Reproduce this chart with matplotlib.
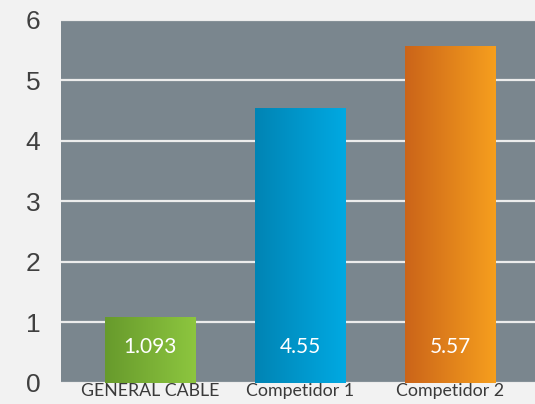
import numpy as np
import matplotlib
matplotlib.use("Agg")
import matplotlib.pyplot as plt
from matplotlib.colors import LinearSegmentedColormap

# datos
categorias = ["GENERAL CABLE", "Competidor 1", "Competidor 2"]
valores = [1.093, 4.55, 5.57]
etiquetas = ["1.093", "4.55", "5.57"]
colores = [("#679a2c", "#8dc63f"), ("#0084b4", "#00a9e2"), ("#cb6419", "#f69f1e")]
ticks_y = [0, 1, 2, 3, 4, 5, 6]

fig = plt.figure(figsize=(5.35, 4.04), dpi=100)
fig.patch.set_facecolor("#f2f2f2")
ax = fig.add_axes([0.114, 0.052, 0.886, 0.8985])
ax.set_facecolor("#7a868e")

x = np.arange(len(categorias))
barras = ax.bar(x, valores, width=0.6, color="none", zorder=3)

# degradado horizontal dentro de cada barra
gradiente = np.linspace(0, 1, 256).reshape(1, -1)
for barra, (c1, c2) in zip(barras, colores):
    cmap = LinearSegmentedColormap.from_list("g", [c1, c2])
    x0 = barra.get_x()
    ancho = barra.get_width()
    alto = barra.get_height()
    img = ax.imshow(gradiente, cmap=cmap, aspect="auto",
                    extent=[x0, x0 + ancho, 0, alto], zorder=3)
    img.set_clip_path(barra)

for xi, texto in zip(x, etiquetas):
    ax.text(xi, 0.59, texto, ha="center", va="center", color="white",
            fontsize=15, family=["Lato", "DejaVu Sans"], zorder=4)

ax.set_xlim(-0.593, 2.567)
ax.set_ylim(0, 6)
ax.set_yticks(ticks_y)
ax.set_yticklabels([str(t) for t in ticks_y], fontsize=19, color="#404040",
                   family=["Liberation Sans", "DejaVu Sans"])
ax.set_xticks(x)
ax.set_xticklabels(categorias, fontsize=12.8, color="#3a3a3a",
                   family=["Lato", "DejaVu Sans"])
ax.tick_params(axis="y", length=0, pad=15)
ax.tick_params(axis="x", length=0, pad=0)
ax.grid(axis="y", color="#ececec", linewidth=1.6, zorder=1)
ax.set_axisbelow(True)
for lado in ax.spines.values():
    lado.set_visible(False)

fig.savefig("out.png", dpi=100, facecolor=fig.get_facecolor())
